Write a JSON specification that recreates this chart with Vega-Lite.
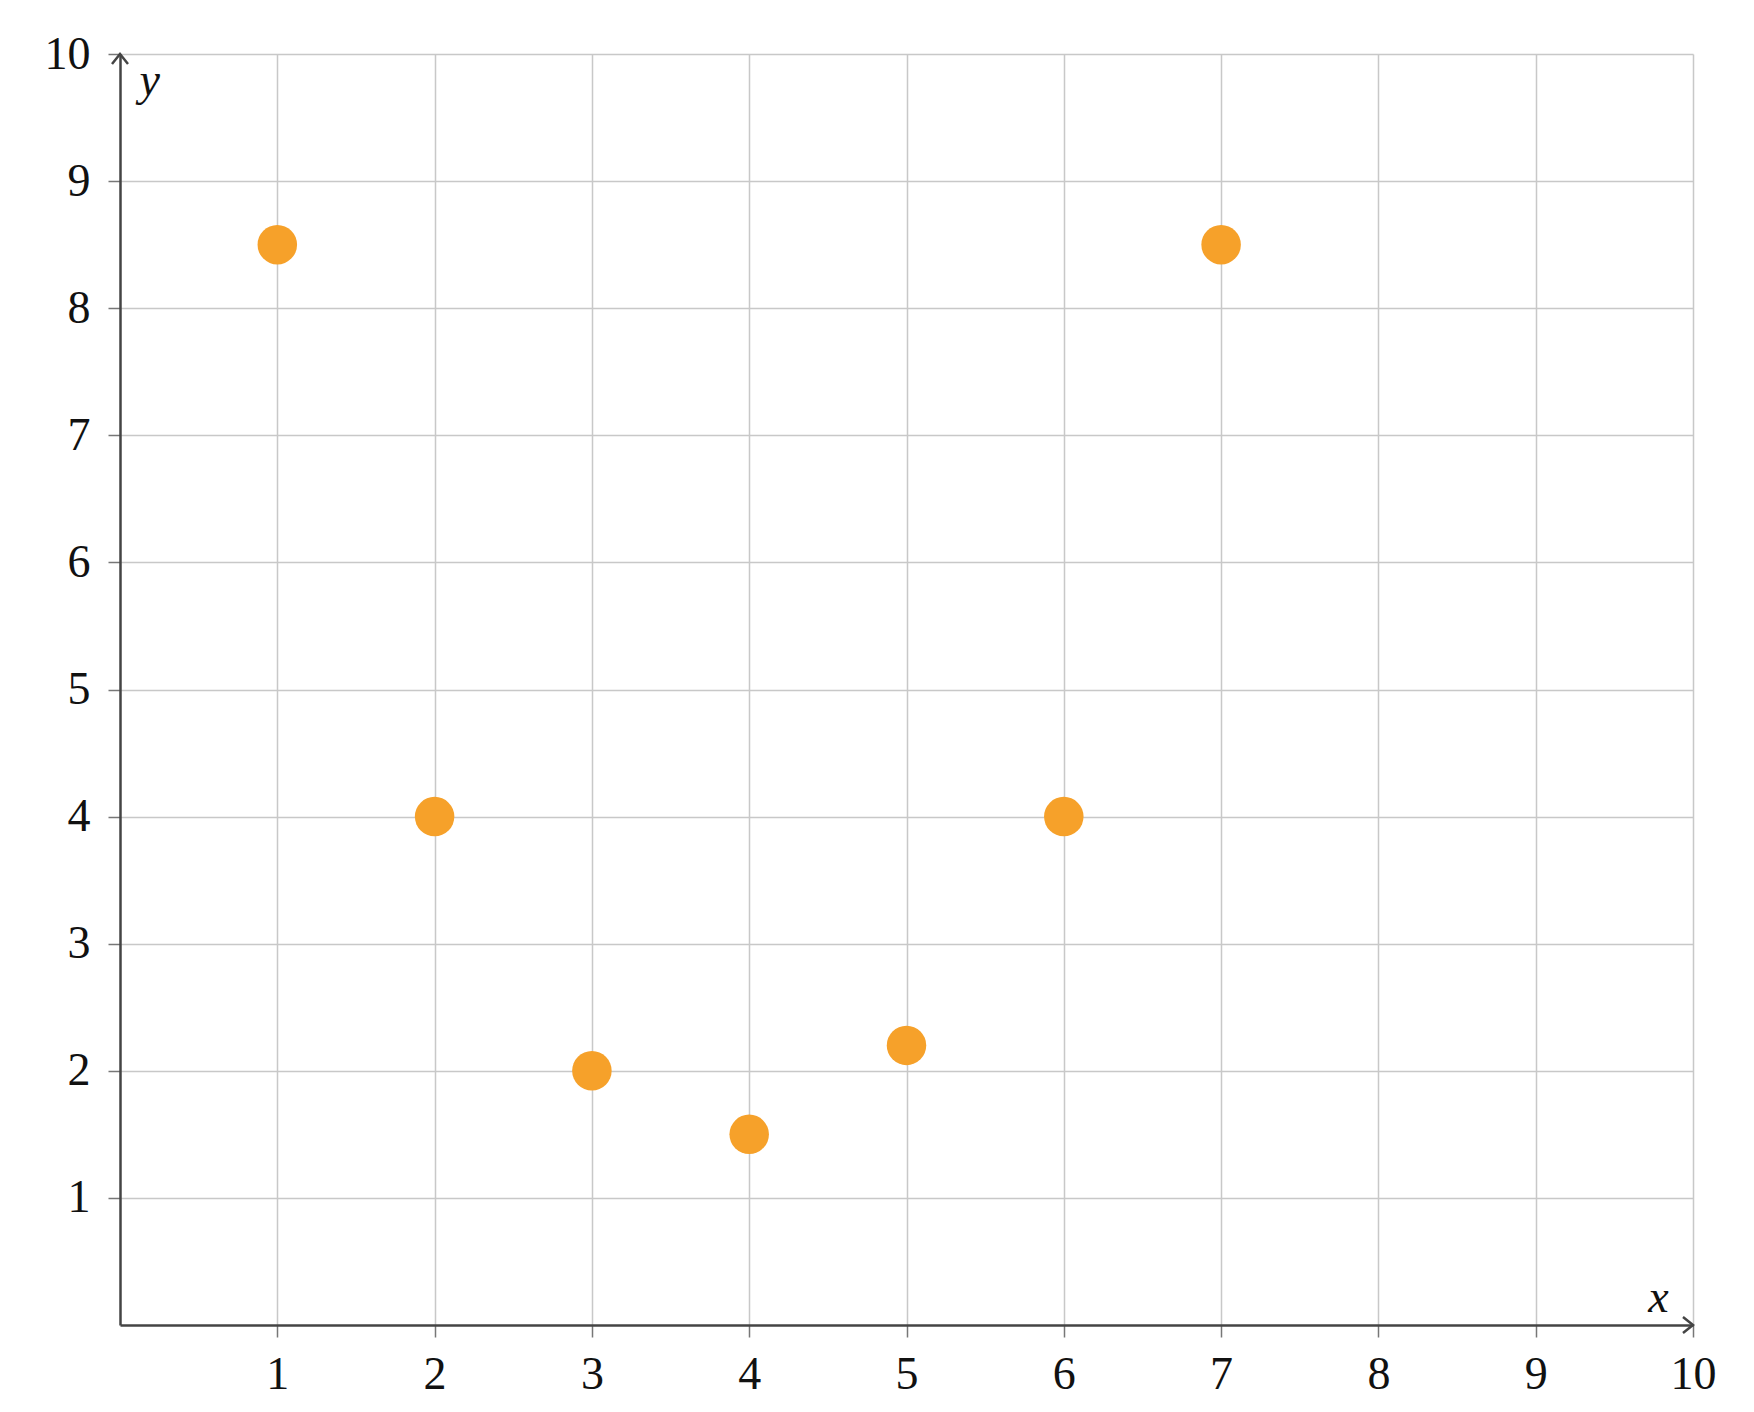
{
  "$schema": "https://vega.github.io/schema/vega-lite/v6.json",
  "width": 1573,
  "height": 1271,
  "autosize": {"type": "none"},
  "padding": {"left": 120, "top": 54, "right": 61, "bottom": 87},
  "background": "white",
  "config": {
    "view": {"stroke": null},
    "axis": {
      "labelFont": "Liberation Serif",
      "labelFontSize": 46,
      "labelColor": "#111",
      "titleFont": "Liberation Serif",
      "titleFontStyle": "italic",
      "titleFontWeight": "normal",
      "titleFontSize": 46,
      "titleColor": "#111",
      "gridColor": "#c8c8c8",
      "gridWidth": 1.5,
      "gridOpacity": 1,
      "domainColor": "#444",
      "domainWidth": 2.5,
      "tickColor": "#777",
      "tickWidth": 1.5,
      "tickSize": 12
    }
  },
  "datasets": {
    "points": [
      {"x": 1, "y": 8.5},
      {"x": 2, "y": 4},
      {"x": 3, "y": 2},
      {"x": 4, "y": 1.5},
      {"x": 5, "y": 2.2},
      {"x": 6, "y": 4},
      {"x": 7, "y": 8.5}
    ],
    "arrows": [
      {"x": 10, "y": 0, "dir": "right"},
      {"x": 0, "y": 10, "dir": "up"}
    ]
  },
  "layer": [
    {
      "data": {"name": "points"},
      "mark": {"type": "point", "filled": true, "size": 1560, "color": "#f6a12a", "opacity": 1},
      "encoding": {
        "x": {
          "field": "x",
          "type": "quantitative",
          "scale": {"domain": [0, 10], "nice": false, "zero": true},
          "axis": {
            "values": [1, 2, 3, 4, 5, 6, 7, 8, 9, 10],
            "format": "d",
            "title": "x",
            "titleX": 1538,
            "titleY": -28,
            "titleAlign": "center",
            "titleBaseline": "middle",
            "labelPadding": 15,
            "labelFlush": false,
            "labelOverlap": false
          }
        },
        "y": {
          "field": "y",
          "type": "quantitative",
          "scale": {"domain": [0, 10], "nice": false, "zero": true},
          "axis": {
            "values": [1, 2, 3, 4, 5, 6, 7, 8, 9, 10],
            "format": "d",
            "title": "y",
            "titleAngle": 0,
            "titleX": 19,
            "titleY": 26,
            "titleAlign": "left",
            "titleBaseline": "middle",
            "labelPadding": 18,
            "labelFlush": false,
            "labelOverlap": false
          }
        }
      }
    },
    {
      "data": {"name": "arrows"},
      "mark": {"type": "point", "filled": false, "size": 256, "color": "#444", "strokeWidth": 2.5, "opacity": 1},
      "encoding": {
        "x": {"field": "x", "type": "quantitative"},
        "y": {"field": "y", "type": "quantitative"},
        "shape": {
          "field": "dir",
          "type": "nominal",
          "scale": {"domain": ["right", "up"], "range": ["M-1.25,-1L0,0L-1.25,1", "M-1,1.25L0,0L1,1.25"]},
          "legend": null
        }
      }
    }
  ]
}
